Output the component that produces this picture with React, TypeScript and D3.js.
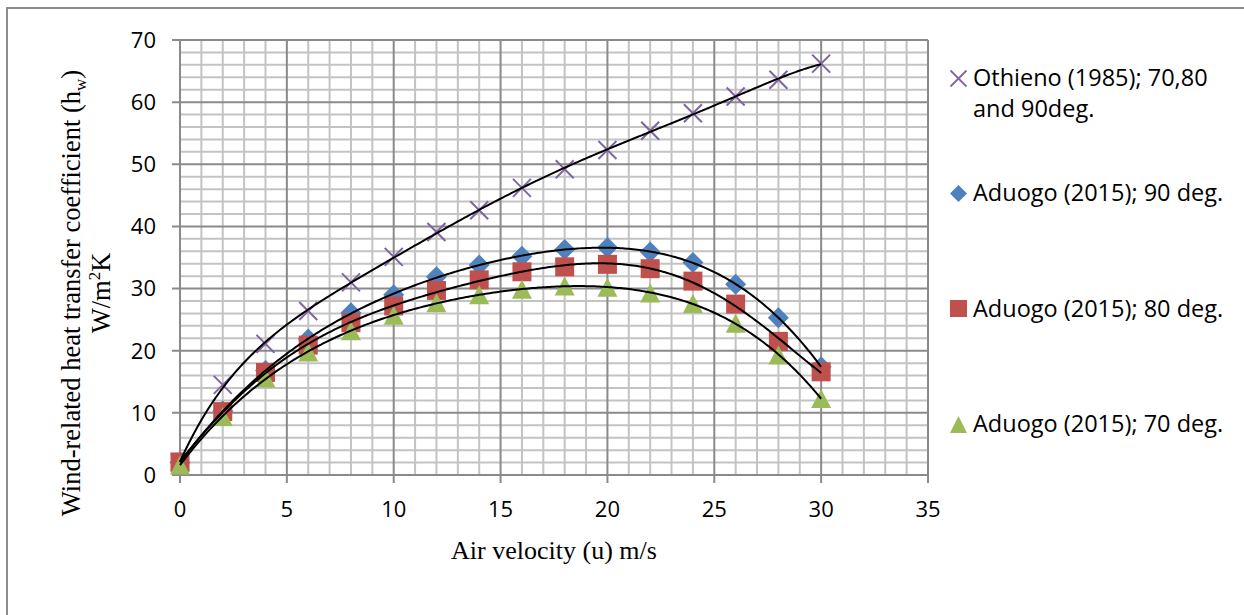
import React from "react";
import * as d3 from "d3";

const velocity = [0, 2, 4, 6, 8, 10, 12, 14, 16, 18, 20, 22, 24, 26, 28, 30];
const othieno = [2, 14.5, 21.1, 26.4, 31.0, 35.1, 39.1, 42.6, 46.2, 49.2, 52.3, 55.4, 58.2, 60.9, 63.6, 66.2];
const aduogo90 = [2, 10.3, 16.8, 21.9, 26.1, 29.0, 31.9, 33.8, 35.2, 36.3, 36.6, 35.9, 34.2, 30.7, 25.3, 17.4];
const aduogo80 = [2.1, 10.2, 16.5, 20.9, 24.5, 27.2, 29.7, 31.4, 32.7, 33.5, 33.9, 33.2, 31.2, 27.5, 21.5, 16.6];
const aduogo70 = [1.6, 9.4, 15.6, 19.8, 23.2, 25.7, 27.7, 29.0, 29.9, 30.4, 30.2, 29.3, 27.6, 24.4, 19.3, 12.3];

const xTicks = [0, 5, 10, 15, 20, 25, 30, 35];
const yTicks = [0, 10, 20, 30, 40, 50, 60, 70];

const legendLabels = [
  ["Othieno (1985); 70,80", "and 90deg."],
  ["Aduogo (2015); 90 deg."],
  ["Aduogo (2015); 80 deg."],
  ["Aduogo (2015); 70 deg."],
];

const PURPLE = "#8064A2";
const BLUE = "#4F81BD";
const RED = "#C0504D";
const GREEN = "#9BBB59";

function polyfit(xs: number[], ys: number[], deg: number) {
  const n = deg + 1;
  const A: number[][] = Array.from({ length: n }, () => new Array(n + 1).fill(0));
  xs.forEach((xv, k) => {
    const t = xv / 30;
    for (let i = 0; i < n; i++) {
      for (let j = 0; j < n; j++) A[i][j] += Math.pow(t, i + j);
      A[i][n] += ys[k] * Math.pow(t, i);
    }
  });
  for (let c = 0; c < n; c++) {
    let p = c;
    for (let r = c + 1; r < n; r++) if (Math.abs(A[r][c]) > Math.abs(A[p][c])) p = r;
    [A[c], A[p]] = [A[p], A[c]];
    for (let r = 0; r < n; r++) {
      if (r === c) continue;
      const f = A[r][c] / A[c][c];
      for (let k = c; k <= n; k++) A[r][k] -= f * A[c][k];
    }
  }
  const coef = A.map((row, i) => row[n] / row[i]);
  return (xv: number) => {
    const t = xv / 30;
    return coef.reduce((s, c, i) => s + c * Math.pow(t, i), 0);
  };
}

export default function App() {
  const x = d3.scaleLinear().domain([0, 35]).range([180, 928]);
  const y = d3.scaleLinear().domain([0, 70]).range([475, 40]);

  const minorX = d3.range(0, 36, 1).filter((v) => v % 5 !== 0);
  const minorY = d3.range(0, 71, 2).filter((v) => v % 10 !== 0);

  const series = [
    { vals: othieno, deg: 6 },
    { vals: aduogo90, deg: 6 },
    { vals: aduogo80, deg: 6 },
    { vals: aduogo70, deg: 6 },
  ];
  const samples = d3.range(0, 30.001, 0.1);
  const line = d3
    .line<[number, number]>()
    .x((d) => x(d[0]))
    .y((d) => y(d[1]));

  const trend = series.map((s) => {
    const f = polyfit(velocity, s.vals, s.deg);
    return line(samples.map((v) => [v, f(v)] as [number, number]));
  });

  const xMark = (cx: number, cy: number, r: number, key: any, sw = 2) => (
    <g key={key} stroke={PURPLE} strokeWidth={sw}>
      <line x1={cx - r} y1={cy - r} x2={cx + r} y2={cy + r} />
      <line x1={cx - r} y1={cy + r} x2={cx + r} y2={cy - r} />
    </g>
  );
  const diamond = (cx: number, cy: number, r: number, key: any) => (
    <path key={key} d={`M${cx},${cy - r}L${cx + r},${cy}L${cx},${cy + r}L${cx - r},${cy}Z`} fill={BLUE} />
  );
  const square = (cx: number, cy: number, r: number, key: any) => (
    <rect key={key} x={cx - r} y={cy - r} width={2 * r} height={2 * r} fill={RED} />
  );
  const triangle = (cx: number, cy: number, w: number, h: number, key: any) => (
    <path key={key} d={`M${cx},${cy - h / 2}L${cx + w / 2},${cy + h / 2}L${cx - w / 2},${cy + h / 2}Z`} fill={GREEN} />
  );

  const sans = "'Open Sans', 'Noto Sans', sans-serif";
  const serif = "'Liberation Serif', 'Times New Roman', serif";

  return (
    <svg width={1244} height={615} style={{ position: "absolute", left: 0, top: 0, background: "#fff" }}>
      <rect x={0} y={0} width={1244} height={615} fill="#fff" />
      <rect x={7} y={8} width={1400} height={800} fill="none" stroke="#8c8c8c" strokeWidth={2} />

      {/* minor grid */}
      <g stroke="#c3c3c3" strokeWidth={2}>
        {minorX.map((v) => (
          <line key={"mx" + v} x1={x(v)} x2={x(v)} y1={y(70)} y2={y(0)} />
        ))}
        {minorY.map((v) => (
          <line key={"my" + v} x1={x(0)} x2={x(35)} y1={y(v)} y2={y(v)} />
        ))}
      </g>
      {/* major grid */}
      <g stroke="#8a8a8a" strokeWidth={2}>
        {xTicks.map((v) => (
          <line key={"Mx" + v} x1={x(v)} x2={x(v)} y1={y(70)} y2={y(0) + 8} />
        ))}
        {yTicks.map((v) => (
          <line key={"My" + v} x1={x(0) - 8} x2={x(35)} y1={y(v)} y2={y(v)} />
        ))}
      </g>

      {/* tick labels */}
      <g fontFamily={sans} fontSize={22} fill="#000">
        {yTicks.map((v) => (
          <text key={"yl" + v} x={156} y={y(v)} dy="0.36em" textAnchor="end">
            {v}
          </text>
        ))}
        {xTicks.map((v) => (
          <text key={"xl" + v} x={x(v)} y={517} textAnchor="middle">
            {v}
          </text>
        ))}
      </g>

      {/* markers */}
      <g>
        {velocity.map((v, i) => xMark(x(v), y(othieno[i]), 9, "o" + i))}
        {velocity.map((v, i) => diamond(x(v), y(aduogo90[i]), 10.5, "b" + i))}
        {velocity.map((v, i) => square(x(v), y(aduogo80[i]), 9.5, "r" + i))}
        {velocity.map((v, i) => triangle(x(v), y(aduogo70[i]), 20, 19, "g" + i))}
      </g>

      {/* trendlines */}
      <g fill="none" stroke="#000" strokeWidth={2}>
        {trend.map((d, i) => (
          <path key={"t" + i} d={d || ""} />
        ))}
      </g>

      {/* axis titles */}
      <text x={554} y={559} textAnchor="middle" fontFamily={serif} fontSize={26}>
        Air velocity (u) m/s
      </text>
      <text transform="translate(80,293) rotate(-90)" textAnchor="middle" fontFamily={serif} fontSize={26.5}>
        Wind-related heat transfer coefficient (h
        <tspan fontSize={17} dy={6}>w</tspan>
        <tspan dy={-6}>)</tspan>
      </text>
      <text transform="translate(110,293) rotate(-90)" textAnchor="middle" fontFamily={serif} fontSize={26.5}>
        W/m
        <tspan fontSize={17} dy={-10}>2</tspan>
        <tspan dy={10}>K</tspan>
      </text>

      {/* legend */}
      <g fontFamily={sans} fontSize={23.5} fill="#000">
        {xMark(958.5, 78.5, 8, "lx", 1.8)}
        <text x={973} y={86}>{legendLabels[0][0]}</text>
        <text x={973} y={117}>{legendLabels[0][1]}</text>
        {diamond(958.5, 193.5, 8.5, "ld")}
        <text x={973} y={201}>{legendLabels[1][0]}</text>
        {square(958.5, 308.5, 8.5, "ls")}
        <text x={973} y={317}>{legendLabels[2][0]}</text>
        {triangle(958.5, 424.5, 17, 17, "lt")}
        <text x={973} y={432}>{legendLabels[3][0]}</text>
      </g>
    </svg>
  );
}
